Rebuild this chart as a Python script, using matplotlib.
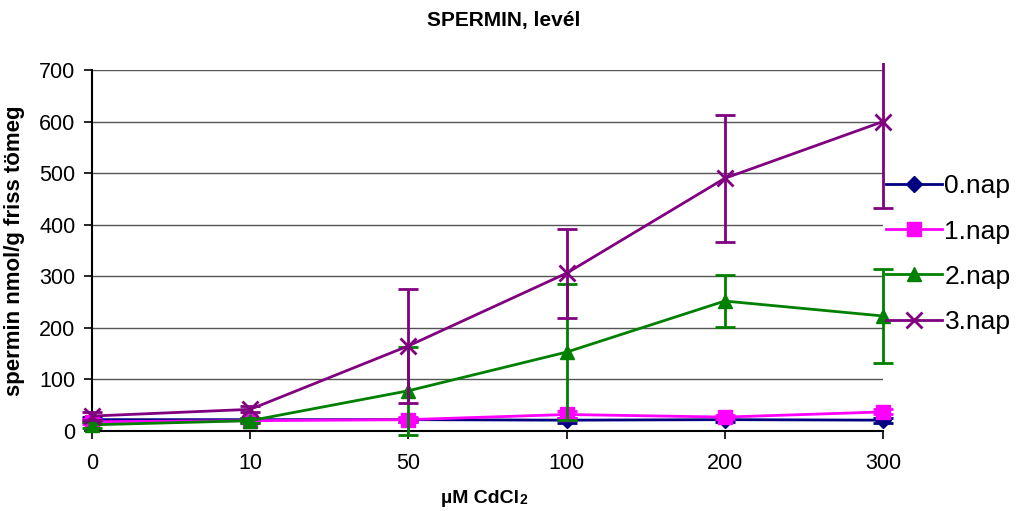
import matplotlib
matplotlib.use("Agg")
import matplotlib.pyplot as plt
from matplotlib.lines import Line2D
from matplotlib.patches import Rectangle
import numpy as np

plt.rcParams['font.family'] = ['Liberation Sans', 'DejaVu Sans']

categories = ["0", "10", "50", "100", "200", "300"]
series_names = ["0.nap", "1.nap", "2.nap", "3.nap"]
nap0 = [22, 22, 22, 21, 22, 21]
nap0_err = [5, 4, 4, 5, 4, 5]
nap1 = [18, 20, 22, 32, 27, 37]
nap1_err = [5, 4, 5, 6, 4, 5]
nap2 = [12, 20, 78, 153, 252, 223]
nap2_err = [6, 5, 85, 132, 50, 92]
nap3 = [29, 42, 165, 306, 490, 600]
nap3_err = [8, 6, 110, 86, 123, 168]

colors = ["#000080", "#FF00FF", "#008000", "#800080"]
markers = ["D", "s", "^", "x"]
msizes = [8, 10, 10, 11]

fig = plt.figure(figsize=(10.17, 5.11), dpi=100)
ax = fig.add_axes([92/1017, 1-431/511, (883-92)/1017, (431-70)/511])

clip_rect = Rectangle((-0.02, -0.03), 1.04, 1.05, transform=ax.transAxes,
                      visible=False)
ax.add_patch(clip_rect)

x = np.arange(len(categories))
data = [nap0, nap1, nap2, nap3]
errs = [nap0_err, nap1_err, nap2_err, nap3_err]
handles = []
for i, (vals, err) in enumerate(zip(data, errs)):
    eb = ax.errorbar(x, vals, yerr=err, color=colors[i], fmt='none',
                     elinewidth=2, capsize=7, capthick=2, zorder=3 + i)
    for art in list(eb.lines[1]) + list(eb.lines[2]):
        art.set_clip_path(clip_rect)
    ax.plot(x, vals, color=colors[i], marker=markers[i], markersize=msizes[i],
            markeredgewidth=2 if markers[i] == 'x' else 1, linewidth=2,
            zorder=3 + i, clip_on=False)
    handles.append(Line2D([], [], color=colors[i], marker=markers[i],
                          markersize=msizes[i],
                          markeredgewidth=2 if markers[i] == 'x' else 1,
                          linewidth=2, label=series_names[i]))

ax.set_xlim(0, 5)
ax.set_ylim(0, 700)
ax.set_yticks(np.arange(0, 701, 100))
ax.set_xticks(x)
ax.set_xticklabels(categories)
ax.yaxis.grid(True, color='#555555', linewidth=1)
ax.set_axisbelow(True)
for s in ['top', 'right']:
    ax.spines[s].set_visible(False)
for s in ['left', 'bottom']:
    ax.spines[s].set_linewidth(1.5)
ax.tick_params(axis='both', direction='out', length=6, width=1.2, labelsize=15.5, pad=6)
ax.tick_params(axis='x', pad=10)

ax.set_ylabel("spermin nmol/g friss tömeg", fontsize=16, fontweight='bold', labelpad=10)
fig.text(0.495, 0.96, "SPERMIN, levél", fontsize=15, fontweight='bold',
         ha='center', va='center')

xl = fig.text(0.472, 0.016, "µM CdCl", fontsize=14, fontweight='bold', ha='center', va='baseline')
ax.annotate("2", xy=(1, 0), xycoords=xl, xytext=(0.5, 0), textcoords='offset points',
            fontsize=10, fontweight='bold', va='bottom', ha='left')

leg = ax.legend(handles=handles, loc='center left', bbox_to_anchor=(0.991, 0.49),
                frameon=False, fontsize=19, handlelength=2.1, handletextpad=0.1,
                labelspacing=0.8, borderaxespad=0)

fig.savefig("out.png", dpi=100)
